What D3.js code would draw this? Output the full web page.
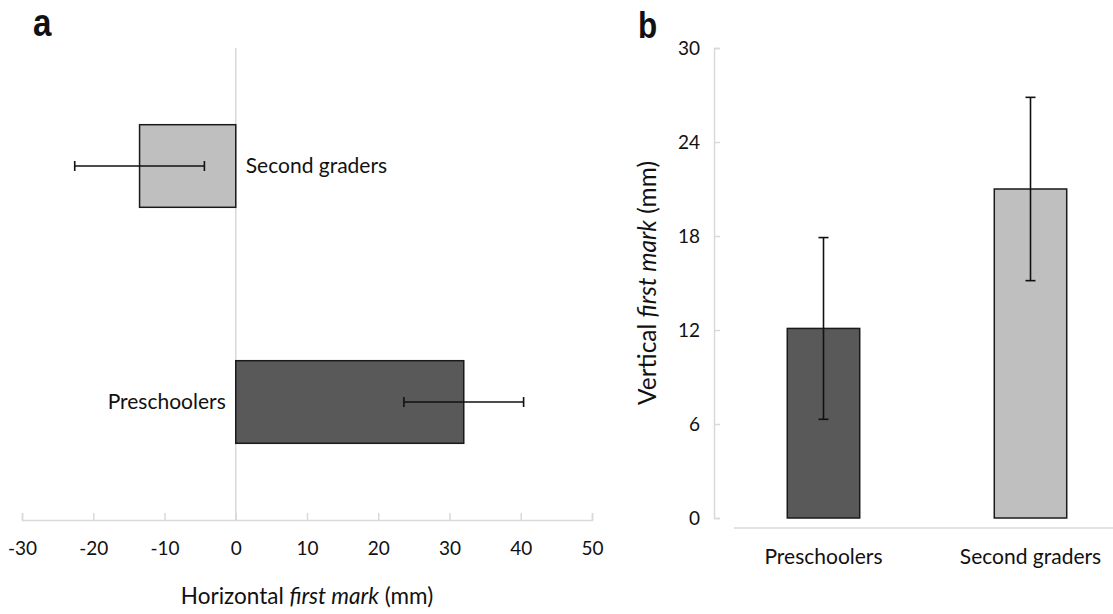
<!DOCTYPE html>
<html>
<head>
<meta charset="utf-8">
<script src="https://cdn.jsdelivr.net/npm/d3@7"></script>
<style>
  body { margin: 0; background: #fff; }
  svg text { font-family: Lato, "Noto Sans", sans-serif; fill: #111; }
</style>
</head>
<body>
<svg id="svg" width="1113" height="614"></svg>
<script>
// groups, shared by both panels
var groups = ["Preschoolers", "Second graders"];
var barColors = ["#595959", "#bfbfbf"];

// panel a: horizontal first mark (mm), mean and error
var horizMean = [32, -13.5];
var horizErr = [8.4, 9.1];
var horizTicks = [-30, -20, -10, 0, 10, 20, 30, 40, 50];

// panel b: vertical first mark (mm), mean and error
var vertMean = [12.1, 21.0];
var vertErr = [5.8, 5.85];
var vertTicks = [0, 6, 12, 18, 24, 30];

var svg = d3.select("#svg");
var axisGrey = "#d9d9d9";

// panel letters, bold and condensed
function panelLetter(x, y, size, s){
  svg.append("text")
    .attr("transform", "translate(" + x + "," + y + ") scale(0.85,1)")
    .style("font-family", "Liberation Sans, Arial, sans-serif")
    .style("font-weight", "bold").style("font-size", size + "px")
    .text(s);
}

// ---------- panel a ----------
var xa = d3.scaleLinear().domain([-30, 50]).range([22, 592]);
var ya = d3.scaleBand().domain(["Second graders", "Preschoolers"]).range([48, 520]).paddingInner(0.65).paddingOuter(0.325);

var dataA = groups.map(function(g, i){
  return {group: g, mean: horizMean[i], err: horizErr[i], color: barColors[i]};
});

panelLetter(33, 36, 39, "a");

// zero line
svg.append("line")
  .attr("x1", xa(0)).attr("x2", xa(0))
  .attr("y1", 48).attr("y2", 520)
  .attr("stroke", axisGrey).attr("stroke-width", 1.5);

var axA = svg.append("g")
  .attr("transform", "translate(0,520)")
  .call(d3.axisBottom(xa).tickValues(horizTicks).tickFormat(function(d){ return String(d); })
    .tickSizeInner(-7).tickSizeOuter(-7).tickPadding(22));
axA.selectAll("path, line").attr("stroke", axisGrey).attr("stroke-width", 1.5);
axA.selectAll("text").style("font-size", "19px").style("font-family", "Lato, sans-serif").attr("fill", "#111");

svg.selectAll("rect.barA").data(dataA).enter().append("rect")
  .attr("class", "barA")
  .attr("x", function(d){ return xa(Math.min(0, d.mean)); })
  .attr("y", function(d){ return ya(d.group); })
  .attr("width", function(d){ return Math.abs(xa(d.mean) - xa(0)); })
  .attr("height", ya.bandwidth())
  .attr("fill", function(d){ return d.color; })
  .attr("stroke", "#1a1a1a").attr("stroke-width", 1.5);

var errA = svg.selectAll("g.errA").data(dataA).enter().append("g").attr("class", "errA");
errA.append("line")
  .attr("x1", function(d){ return xa(d.mean - d.err); })
  .attr("x2", function(d){ return xa(d.mean + d.err); })
  .attr("y1", function(d){ return ya(d.group) + ya.bandwidth() / 2; })
  .attr("y2", function(d){ return ya(d.group) + ya.bandwidth() / 2; });
[-1, 1].forEach(function(s){
  errA.append("line")
    .attr("x1", function(d){ return xa(d.mean + s * d.err); })
    .attr("x2", function(d){ return xa(d.mean + s * d.err); })
    .attr("y1", function(d){ return ya(d.group) + ya.bandwidth() / 2 - 5; })
    .attr("y2", function(d){ return ya(d.group) + ya.bandwidth() / 2 + 5; });
});
errA.selectAll("line").attr("stroke", "#111").attr("stroke-width", 1.6);

// category labels sit on the side of zero opposite the bar
svg.selectAll("text.catA").data(dataA).enter().append("text")
  .attr("class", "catA")
  .attr("x", function(d){ return d.mean < 0 ? xa(0) + 10 : xa(0) - 10; })
  .attr("y", function(d){ return ya(d.group) + ya.bandwidth() / 2; })
  .attr("dy", "0.35em")
  .attr("text-anchor", function(d){ return d.mean < 0 ? "start" : "end"; })
  .style("font-size", "21px")
  .text(function(d){ return d.group; });

var titleA = svg.append("text")
  .attr("x", (xa(-30) + xa(50)) / 2).attr("y", 604)
  .attr("text-anchor", "middle").style("font-size", "22.5px");
titleA.append("tspan").text("Horizontal ");
titleA.append("tspan").style("font-style", "italic").text("first mark");
titleA.append("tspan").text(" (mm)");

// ---------- panel b ----------
var xb = d3.scaleBand().domain(groups).range([720, 1134]).paddingInner(0.65).paddingOuter(0.325);
var yb = d3.scaleLinear().domain([0, 30]).range([518, 48]);

var dataB = groups.map(function(g, i){
  return {group: g, mean: vertMean[i], err: vertErr[i], color: barColors[i]};
});

panelLetter(638, 38, 37, "b");

// y axis with ticks pointing into the plot
var axB = svg.append("g")
  .attr("transform", "translate(714,0)")
  .call(d3.axisLeft(yb).tickValues(vertTicks).tickSizeInner(-6).tickSizeOuter(-6).tickPadding(14));
axB.selectAll("path, line").attr("stroke", axisGrey).attr("stroke-width", 1.5);
axB.selectAll("text").style("font-size", "19px").style("font-family", "Lato, sans-serif").attr("fill", "#111");

// category baseline
svg.append("line")
  .attr("x1", 734).attr("x2", 1113)
  .attr("y1", 528).attr("y2", 528)
  .attr("stroke", axisGrey).attr("stroke-width", 1.5);

svg.selectAll("rect.barB").data(dataB).enter().append("rect")
  .attr("class", "barB")
  .attr("x", function(d){ return xb(d.group); })
  .attr("y", function(d){ return yb(d.mean); })
  .attr("width", xb.bandwidth())
  .attr("height", function(d){ return yb(0) - yb(d.mean); })
  .attr("fill", function(d){ return d.color; })
  .attr("stroke", "#1a1a1a").attr("stroke-width", 1.5);

var errB = svg.selectAll("g.errB").data(dataB).enter().append("g").attr("class", "errB");
errB.append("line")
  .attr("x1", function(d){ return xb(d.group) + xb.bandwidth() / 2; })
  .attr("x2", function(d){ return xb(d.group) + xb.bandwidth() / 2; })
  .attr("y1", function(d){ return yb(d.mean - d.err); })
  .attr("y2", function(d){ return yb(d.mean + d.err); });
[-1, 1].forEach(function(s){
  errB.append("line")
    .attr("x1", function(d){ return xb(d.group) + xb.bandwidth() / 2 - 5; })
    .attr("x2", function(d){ return xb(d.group) + xb.bandwidth() / 2 + 5; })
    .attr("y1", function(d){ return yb(d.mean + s * d.err); })
    .attr("y2", function(d){ return yb(d.mean + s * d.err); });
});
errB.selectAll("line").attr("stroke", "#111").attr("stroke-width", 1.6);

svg.selectAll("text.catB").data(dataB).enter().append("text")
  .attr("class", "catB")
  .attr("x", function(d){ return xb(d.group) + xb.bandwidth() / 2; })
  .attr("y", 557)
  .attr("dy", "0.35em")
  .attr("text-anchor", "middle")
  .style("font-size", "21px")
  .text(function(d){ return d.group; });

var titleB = svg.append("text")
  .attr("transform", "translate(656," + ((yb(0) + yb(30)) / 2) + ") rotate(-90)")
  .attr("text-anchor", "middle").style("font-size", "24.5px");
titleB.append("tspan").text("Vertical ");
titleB.append("tspan").style("font-style", "italic").text("first mark");
titleB.append("tspan").text(" (mm)");
</script>
</body>
</html>
